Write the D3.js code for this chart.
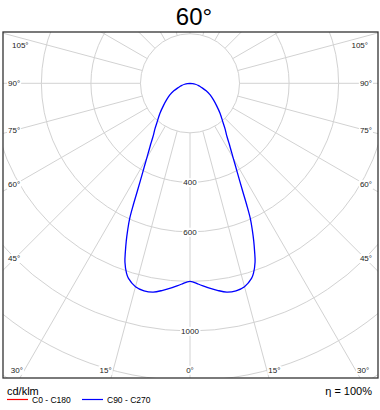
<!DOCTYPE html>
<html>
<head>
<meta charset="utf-8">
<script src="https://d3js.org/d3.v7.min.js"></script>
<style>
  body { margin: 0; background: #fff; }
  svg { display: block; font-family: 'Liberation Sans', Arial, sans-serif; }
  .grid { stroke: #d2d2d2; stroke-width: 1; fill: none; }
  .lbl { font-size: 8px; fill: #222; }
</style>
</head>
<body>
<svg id="chart" width="380" height="410"></svg>
<script>
// luminous intensity (cd/klm), gamma measured from nadir (0°) upward
var gammaDeg = [0, 2.5, 5, 7.5, 10, 12.5, 15, 17.5, 18.5, 20, 21, 22, 23, 24, 25, 26, 27, 28, 29, 30,
                31, 32, 33, 35, 37.5, 40, 45, 50, 55, 60, 65, 70, 75, 80, 85, 90];
var c90  = [800, 812, 828, 843, 856, 858, 850, 826, 808, 768, 728, 687, 644, 600, 542, 486, 442, 406, 376, 349,
            327, 307, 290, 259, 233, 208, 172, 140, 115, 94, 72, 50, 36, 22, 10, 0];
var c270 = [800, 812, 828, 843, 856, 858, 850, 826, 808, 768, 728, 687, 644, 600, 542, 486, 442, 406, 376, 349,
            327, 307, 290, 259, 233, 208, 172, 140, 115, 94, 72, 50, 36, 22, 10, 0];

var ringValues = [200, 400, 600, 800, 1000, 1200, 1400];
var ringLabels = [400, 600, 1000];
var angleLabels = [0, 15, 30, 45, 60, 75, 90, 105];
var spokeAngles = d3.range(0, 360, 15);

var cx = 190, cy = 83.3;
var frame = {x: 3, y: 32, w: 375, h: 346};

var svg = d3.select("#chart");
var rScale = d3.scaleLinear().domain([0, 1000]).range([0, 247.7]);

// point for angle from nadir, positive to the right
function pt(g, v) {
  var a = g * Math.PI / 180, R = rScale(v);
  return [cx + R * Math.sin(a), cy + R * Math.cos(a)];
}

svg.append("rect").attr("width", 380).attr("height", 410).attr("fill", "#fff");

svg.append("defs").append("clipPath").attr("id", "clip")
  .append("rect").attr("x", frame.x).attr("y", frame.y).attr("width", frame.w).attr("height", frame.h);

var grid = svg.append("g").attr("clip-path", "url(#clip)");

grid.selectAll("circle.ring").data(ringValues).enter().append("circle")
  .attr("class", "grid ring")
  .attr("cx", cx).attr("cy", cy)
  .attr("r", function(d) { return rScale(d); });

grid.selectAll("line.spoke").data(spokeAngles).enter().append("line")
  .attr("class", "grid spoke")
  .attr("x1", function(d) { return pt(d, 200)[0]; })
  .attr("y1", function(d) { return pt(d, 200)[1]; })
  .attr("x2", function(d) { return pt(d, 2200)[0]; })
  .attr("y2", function(d) { return pt(d, 2200)[1]; });

// label with white background
function label(g, x, y, txt, anchor) {
  var t = g.append("text").attr("class", "lbl")
    .attr("x", x).attr("y", y).attr("dy", "0.35em")
    .attr("text-anchor", anchor).text(txt);
  var b = t.node().getBBox();
  g.insert("rect", function() { return t.node(); })
    .attr("x", b.x - 1).attr("y", b.y).attr("width", b.width + 2).attr("height", b.height)
    .attr("fill", "#fff");
}

var labels = svg.append("g");

ringLabels.forEach(function(v) {
  label(labels, cx, cy + rScale(v), v, "middle");
});

angleLabels.forEach(function(g) {
  [-1, 1].forEach(function(side) {
    if (g === 0 && side > 0) return;
    var a = g * Math.PI / 180;
    if (g === 0) {
      label(labels, cx, 370, g + "°", "middle");
    } else if (g < 40) {
      var lx = cx + side * (370 - cy) * Math.tan(a);
      label(labels, lx + side * 1.5, 370, g + "°", side < 0 ? "end" : "start");
    } else if (g > 90) {
      label(labels, side < 0 ? 12 : 368, 45, g + "°", side < 0 ? "start" : "end");
    } else {
      var y = g === 90 ? cy : cy + 175 / Math.tan(a);
      label(labels, side < 0 ? 8 : 372, y, g + "°", side < 0 ? "start" : "end");
    }
  });
});

// curve: C270 on the left, C90 on the right
var pts = [];
for (var i = gammaDeg.length - 1; i >= 0; i--) pts.push(pt(-gammaDeg[i], c270[i]));
for (var j = 1; j < gammaDeg.length; j++) pts.push(pt(gammaDeg[j], c90[j]));

var line = d3.line().curve(d3.curveCatmullRom.alpha(0.5));

svg.append("path")
  .attr("d", line(pts))
  .attr("fill", "none")
  .attr("stroke", "#0000ff")
  .attr("stroke-width", 1.3);

svg.append("rect")
  .attr("x", frame.x).attr("y", frame.y).attr("width", frame.w).attr("height", frame.h)
  .attr("fill", "none").attr("stroke", "#333").attr("stroke-width", 1.3);

// title
svg.append("text").attr("x", 194).attr("y", 25).attr("text-anchor", "middle")
  .style("font-size", "24px").text("60°");

// legend
svg.append("text").attr("x", 7).attr("y", 395).style("font-size", "11px").text("cd/klm");
svg.append("text").attr("x", 372).attr("y", 395).attr("text-anchor", "end")
  .style("font-size", "11px").text("η = 100%");

var legend = [{name: "C0 - C180", color: "#ff0000", x: 7}, {name: "C90 - C270", color: "#0000ff", x: 82}];
legend.forEach(function(d) {
  svg.append("line").attr("x1", d.x).attr("x2", d.x + 21).attr("y1", 399.5).attr("y2", 399.5)
    .attr("stroke", d.color).attr("stroke-width", 1.2);
  svg.append("text").attr("x", d.x + 25).attr("y", 403).style("font-size", "8.5px").text(d.name);
});
</script>
</body>
</html>
